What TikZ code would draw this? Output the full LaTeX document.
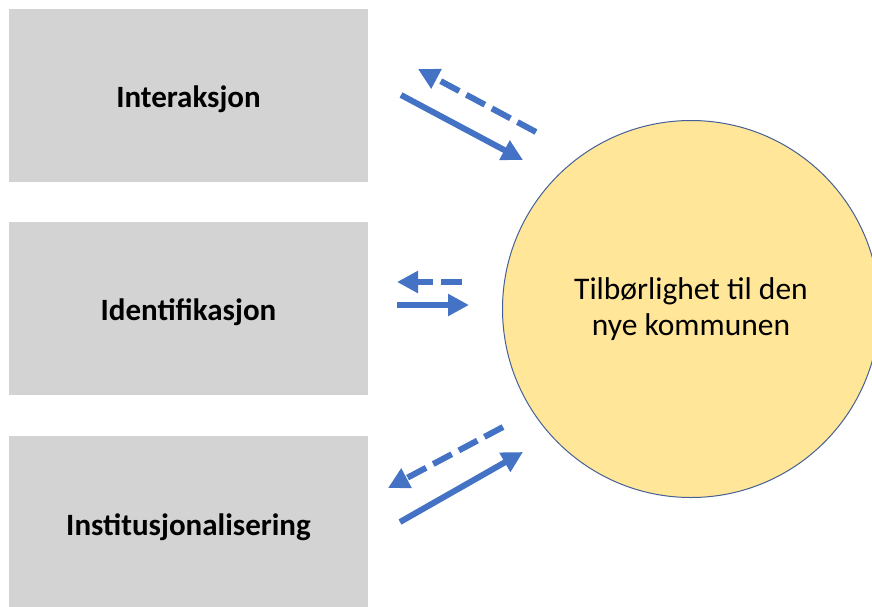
\documentclass[tikz,border=0pt]{standalone}
\usepackage{fontspec}
\setmainfont{Carlito}
\usetikzlibrary{arrows.meta}

\definecolor{boxgray}{RGB}{211,211,211}
\definecolor{arrowblue}{RGB}{68,114,196}
\definecolor{circlefill}{RGB}{255,230,153}
\definecolor{circleline}{RGB}{68,96,150}

\tikzset{
  factorbox/.style={rectangle, fill=boxgray, draw=none,
    minimum width=359pt, minimum height=173pt, inner sep=0pt,
    text height=30pt, text depth=6pt,
    font=\bfseries\fontsize{31}{37}\selectfont},
  goalcircle/.style={circle, fill=circlefill, draw=circleline, line width=1pt,
    minimum size=377pt, inner sep=0pt, align=center,
    font=\fontsize{31.5}{36}\selectfont},
  flow/.style={arrowblue, line width=6pt, line cap=butt,
    -{Triangle[length=21pt,width=21pt]}},
  feedback/.style={flow, dash pattern=on 21pt off 8pt}
}

\begin{document}
\begin{tikzpicture}[x=1pt,y=-1pt]
  \useasboundingbox (0,0) rectangle (872,606);

  % factor boxes
  \node[factorbox] (inter) at (188.5,95.5) {Interaksjon};
  \node[factorbox] (ident) at (188.5,308.5) {Identifikasjon};
  \node[factorbox, minimum height=174pt] (inst) at (188.5,523) {Institusjonalisering};

  % belonging circle
  \node[goalcircle] (goal) at (691,309) {Tilbørlighet til den\\nye kommunen};

  % arrow end points
  \coordinate (d1s) at (536,132); \coordinate (d1e) at (418,69);
  \coordinate (s1s) at (401,95);  \coordinate (s1e) at (523,160);
  \coordinate (d2s) at (462,282); \coordinate (d2e) at (397,282);
  \coordinate (s2s) at (397,305); \coordinate (s2e) at (469,305);
  \coordinate (d3s) at (503,427); \coordinate (d3e) at (388,488);
  \coordinate (s3s) at (400,522); \coordinate (s3e) at (523,452);

  % influence arrows and feedback arrows
  \draw[feedback] (d1s) -- (d1e);
  \draw[flow] (s1s) -- (s1e);
  \draw[feedback] (d2s) -- (d2e);
  \draw[flow] (s2s) -- (s2e);
  \draw[feedback] (d3s) -- (d3e);
  \draw[flow] (s3s) -- (s3e);
\end{tikzpicture}
\end{document}
